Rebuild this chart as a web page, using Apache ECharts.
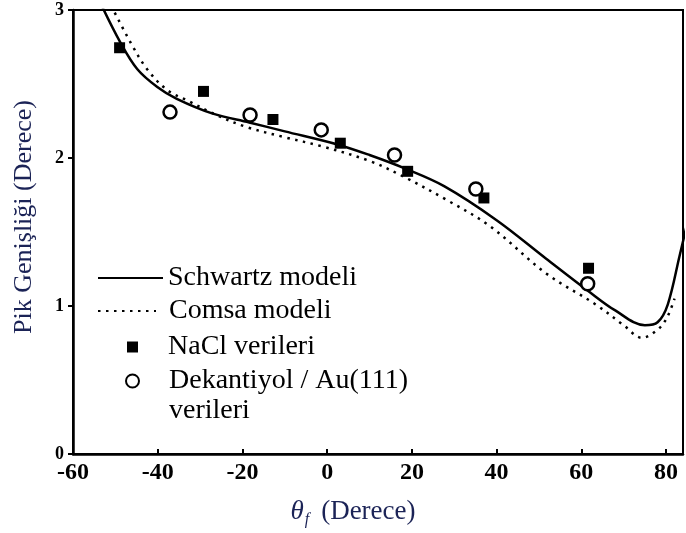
<!DOCTYPE html>
<html>
<head>
<meta charset="utf-8">
<script src="https://cdn.jsdelivr.net/npm/echarts@6/dist/echarts.min.js"></script>
<style>
html,body{margin:0;padding:0;background:#fff;}
#chart{width:686px;height:533px;}
</style>
</head>
<body>
<div id="chart"></div>
<script>
// ---- data ----
var xTicks = [-60, -40, -20, 0, 20, 40, 60, 80];
var yTicks = [0, 1, 2, 3];

var schwartzX = [-53.4, -48.8, -44.8, -40.1, -35.5, -27, -18.4, -10, 2.6, 10, 18.3, 27.6, 40, 51.7, 61.7, 68, 75, 78, 80.4, 83.2, 85.5];
var schwartzY = [3.04, 2.78, 2.60, 2.48, 2.40, 2.30, 2.24, 2.18, 2.09, 2.02, 1.93, 1.81, 1.58, 1.32, 1.10, 0.97, 0.87, 0.89, 1.01, 1.34, 1.62];

var comsaX = [-51.0, -46.4, -42.5, -37.8, -33.1, -26.1, -19.1, -10, -1.4, 10, 18.3, 28, 38.4, 51.7, 63.4, 70, 74.3, 78, 80.2, 82];
var comsaY = [3.03, 2.78, 2.60, 2.46, 2.39, 2.29, 2.21, 2.14, 2.08, 1.98, 1.87, 1.72, 1.54, 1.22, 1.01, 0.87, 0.785, 0.84, 0.92, 1.05];

var naclX = [-49, -29.2, -12.8, 3.1, 19, 37, 61.7];
var naclY = [2.745, 2.45, 2.26, 2.10, 1.91, 1.73, 1.255];

var auX = [-37.1, -18.2, -1.4, 15.9, 35.1, 61.5];
var auY = [2.31, 2.29, 2.19, 2.02, 1.79, 1.15];

var names = ['Schwartz modeli', 'Comsa modeli', 'NaCl verileri', 'Dekantiyol / Au(111) verileri'];
var auLegendLines = ['Dekantiyol / Au(111)', 'verileri'];

function zip(xs, ys) { return xs.map(function (x, i) { return [x, ys[i]]; }); }

var serif = '"Liberation Serif", "Times New Roman", serif';
var navy = '#1b2356';
var legendText = { fontFamily: serif, fontSize: 28, color: '#000' };
var noSymbol = { opacity: 0, borderWidth: 0 };

var chart = echarts.init(document.getElementById('chart'), null, { renderer: 'canvas' });
chart.setOption({
  animation: false,
  backgroundColor: '#fff',
  grid: { left: 73, top: 10, width: 615, height: 447, show: true, borderColor: '#000', borderWidth: 2, backgroundColor: 'transparent' },
  xAxis: {
    type: 'value', min: -60, max: 84, interval: 20,
    axisLine: { lineStyle: { color: '#000', width: 2.5 } },
    axisTick: { inside: true, length: 5, lineStyle: { color: '#000', width: 2 } },
    splitLine: { show: false },
    axisLabel: {
      margin: 7, color: '#000', fontFamily: serif, fontWeight: 'bold', fontSize: 24,
      formatter: function (v) { return xTicks.indexOf(v) >= 0 ? String(v) : ''; }
    },
    name: '{t|θ}{s|f}{n|(Derece)}',
    nameLocation: 'middle', nameGap: 42,
    nameTextStyle: {
      padding: [0, 50, 0, 0],
      rich: {
        t: { fontFamily: serif, fontStyle: 'italic', fontSize: 27, color: navy },
        s: { fontFamily: serif, fontStyle: 'italic', fontSize: 16, color: navy, padding: [16, 12, 0, 1] },
        n: { fontFamily: serif, fontSize: 27, color: navy }
      }
    }
  },
  yAxis: {
    type: 'value', min: 0, max: 3, interval: 1,
    axisLine: { show: true, onZero: false, lineStyle: { color: '#000', width: 2.5 } },
    axisTick: { show: true, length: 5, lineStyle: { color: '#000', width: 2 } },
    splitLine: { show: false },
    axisLabel: {
      margin: 9, color: '#000', fontFamily: serif, fontWeight: 'bold', fontSize: 18,
      formatter: function (v) { return yTicks.indexOf(v) >= 0 ? String(v) : ''; }
    },
    name: 'Pik Genişliği (Derece)',
    nameLocation: 'middle', nameGap: 36,
    nameTextStyle: { fontFamily: serif, fontSize: 26, color: navy, padding: [0, 0, 0, 30] }
  },
  legend: [
    { data: [names[0]], left: 97, top: 264, padding: 0, itemWidth: 65, itemHeight: 14, itemGap: 0,
      itemStyle: noSymbol, textStyle: legendText },
    { data: [names[1]], left: 97, top: 297, padding: 0, itemWidth: 58, itemHeight: 14, itemGap: 0,
      itemStyle: noSymbol, textStyle: Object.assign({}, legendText, { padding: [0, 0, 0, 8] }) },
    { data: [names[2]], left: 127, top: 333, padding: 0, itemWidth: 11, itemHeight: 11, itemGap: 0,
      textStyle: Object.assign({}, legendText, { padding: [0, 0, 0, 25] }) },
    { data: [names[3]], left: 125, top: 336, padding: 0, itemWidth: 13, itemHeight: 13, itemGap: 0,
      formatter: function () { return '\n' + auLegendLines.join('\n'); },
      textStyle: Object.assign({}, legendText, { lineHeight: 30, padding: [0, 0, 0, 25] }) }
  ],
  series: [
    {
      name: names[0], type: 'line', data: zip(schwartzX, schwartzY), smooth: 0.35,
      symbol: 'none', showSymbol: false, z: 2,
      lineStyle: { color: '#000', width: 2.5 }, itemStyle: { color: '#000' }
    },
    {
      name: names[1], type: 'line', data: zip(comsaX, comsaY), smooth: 0.35,
      symbol: 'none', showSymbol: false, z: 2,
      lineStyle: { color: '#000', width: 2.5, type: [2.5, 5.5] }, itemStyle: { color: '#000' }
    },
    {
      name: names[2], type: 'scatter', data: zip(naclX, naclY), symbol: 'rect', symbolSize: 11, z: 3,
      itemStyle: { color: '#000', opacity: 1 }
    },
    {
      name: names[3], type: 'scatter', data: zip(auX, auY), symbol: 'circle', symbolSize: 13, z: 3,
      itemStyle: { color: '#fff', borderColor: '#000', borderWidth: 2.5, opacity: 1 }
    }
  ]
});
</script>
</body>
</html>
